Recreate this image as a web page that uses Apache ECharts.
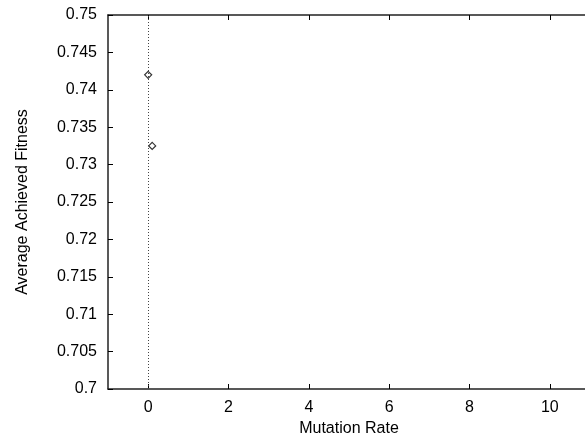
<!DOCTYPE html>
<html>
<head>
<meta charset="utf-8">
<script src="https://cdn.jsdelivr.net/npm/echarts@6/dist/echarts.min.js"></script>
<style>
	html, body { margin: 0; padding: 0; background: #fff; }
	#chart { width: 585px; height: 443px; }
</style>
</head>
<body>
<div id="chart"></div>
<script>
// values
const mutationRate = [0, 0.1]
const fitness = [0.742, 0.7325]
const xTicks = [0, 2, 4, 6, 8, 10]

const points = mutationRate.map((x, i) => [x, fitness[i]])
const font = 'Liberation Sans, Arial, sans-serif'

const chart = echarts.init(document.getElementById('chart'))
const axisLine = { show: true, onZero: false, lineStyle: { color: '#222', width: 1.5 } }
const tickIn = { show: true, inside: true, length: 5, lineStyle: { color: '#000' } }

chart.setOption({
	animation: false,
	grid: {
		left: 108,
		top: 15,
		width: 482,
		height: 374,
		containLabel: false,
		outerBoundsMode: 'none',
	},
	xAxis: [
		{
			type: 'value',
			min: -1,
			max: 11,
			name: 'Mutation Rate',
			nameLocation: 'middle',
			nameGap: 28,
			nameTextStyle: { fontFamily: font, fontSize: 16, color: '#000' },
			axisLine: axisLine,
			axisTick: Object.assign({}, tickIn, { customValues: xTicks }),
			axisLabel: {
				fontFamily: font,
				fontSize: 16,
				color: '#000',
				margin: 11,
				customValues: xTicks,
			},
			splitLine: { show: false },
		},
		{
			type: 'value',
			position: 'top',
			min: -1,
			max: 11,
			axisLine: axisLine,
			axisTick: Object.assign({}, tickIn, { customValues: xTicks }),
			axisLabel: { show: false },
			splitLine: { show: false },
		},
	],
	yAxis: {
		type: 'value',
		min: 0.7,
		max: 0.75,
		interval: 0.005,
		name: 'Average Achieved Fitness',
		nameLocation: 'middle',
		nameGap: 77,
		nameTextStyle: { fontFamily: font, fontSize: 16, color: '#000' },
		axisLine: axisLine,
		axisTick: tickIn,
		axisLabel: {
			fontFamily: font,
			fontSize: 16,
			color: '#000',
			margin: 11,
			formatter: v => String(parseFloat(v.toFixed(3))),
		},
		splitLine: { show: false },
	},
	series: [
		{
			type: 'scatter',
			data: points,
			symbol: 'diamond',
			symbolSize: 7,
			itemStyle: { color: '#fff', borderColor: '#000', borderWidth: 1.2 },
			z: 3,
			markLine: {
				silent: true,
				symbol: 'none',
				label: { show: false },
				lineStyle: { color: '#444', type: [1, 2], width: 1 },
				data: [{ xAxis: 0 }],
			},
		},
	],
})
</script>
</body>
</html>
